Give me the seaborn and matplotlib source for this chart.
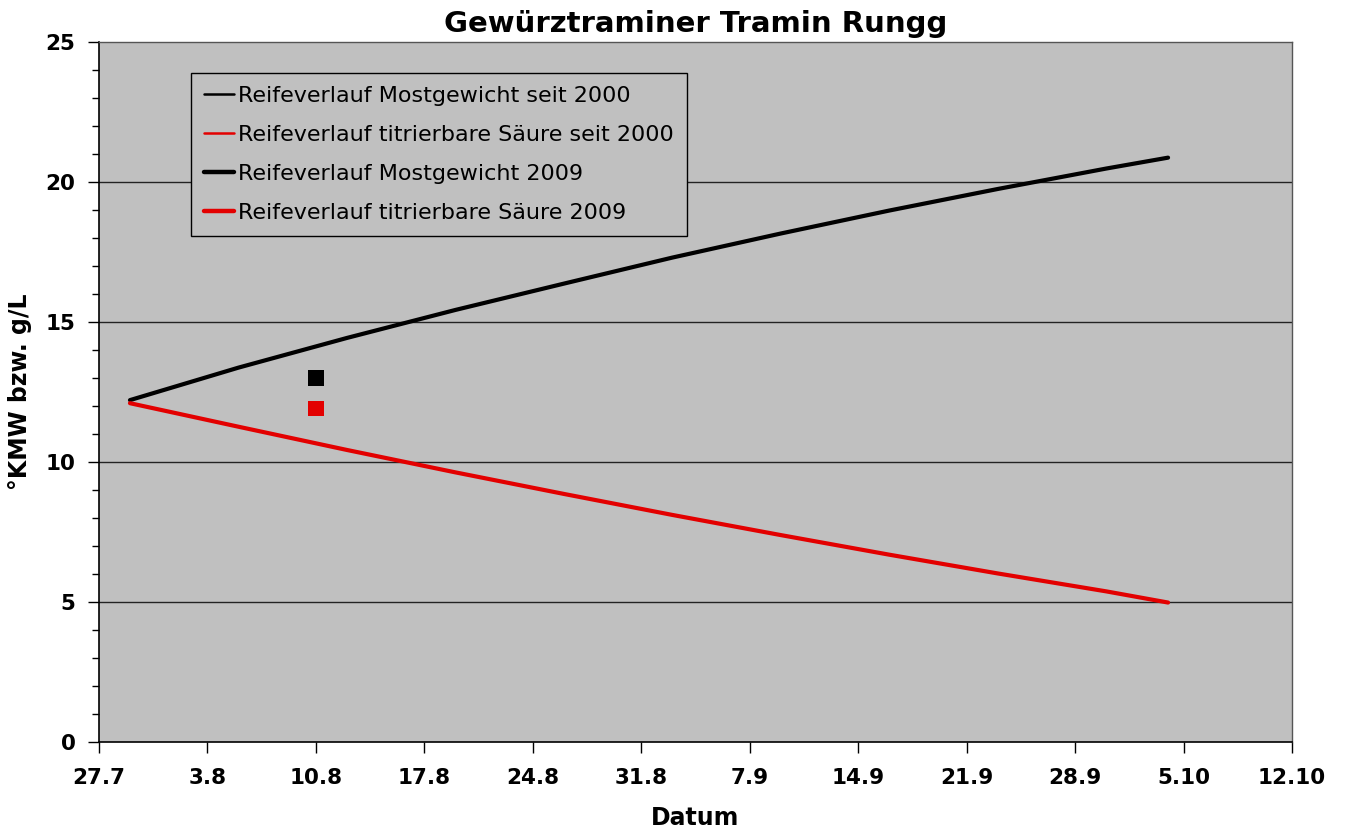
import matplotlib
matplotlib.use("Agg")
import matplotlib.pyplot as plt
import matplotlib.dates as mdates
from matplotlib.lines import Line2D
from matplotlib.ticker import FuncFormatter, MultipleLocator
import seaborn as sns
import pandas as pd

# average ripening curves since 2000
curve_dates = ["2009-07-29", "2009-08-05", "2009-08-12", "2009-08-19", "2009-08-26",
               "2009-09-02", "2009-09-09", "2009-09-16", "2009-09-23", "2009-09-30",
               "2009-10-04"]
mostgewicht_2000 = [12.21, 13.37, 14.43, 15.43, 16.37, 17.30, 18.16, 18.98, 19.75, 20.48, 20.87]
saeure_2000 = [12.10, 11.26, 10.43, 9.63, 8.86, 8.11, 7.39, 6.69, 6.02, 5.38, 4.98]

# 2009 measurement
dates_2009 = ["2009-08-10"]
mostgewicht_2009 = [13.0]
saeure_2009 = [11.9]

tick_dates = pd.date_range("2009-07-27", "2009-10-12", freq="7D")

labels = ["Reifeverlauf Mostgewicht seit 2000",
          "Reifeverlauf titrierbare Säure seit 2000",
          "Reifeverlauf Mostgewicht 2009",
          "Reifeverlauf titrierbare Säure 2009"]

RED = "#e30000"

sns.set_style("ticks", {"axes.facecolor": "#c0c0c0"})
plt.rcParams["font.family"] = ["DejaVu Sans"]
plt.rcParams["text.color"] = "black"
plt.rcParams["axes.labelcolor"] = "black"
plt.rcParams["xtick.color"] = "black"
plt.rcParams["ytick.color"] = "black"

curves = pd.DataFrame({"datum": pd.to_datetime(curve_dates),
                       "most": mostgewicht_2000,
                       "saeure": saeure_2000})
points = pd.DataFrame({"datum": pd.to_datetime(dates_2009),
                       "most": mostgewicht_2009,
                       "saeure": saeure_2009})

fig = plt.figure(figsize=(13.45, 8.32), dpi=100)
ax = fig.add_axes([0.0736, 0.1082, 0.8870, 0.8413])

for y in [5, 10, 15, 20]:
    ax.axhline(y, color="#222222", lw=1.0, zorder=1)

sns.lineplot(data=curves, x="datum", y="most", color="black", lw=3, ax=ax, zorder=3)
sns.lineplot(data=curves, x="datum", y="saeure", color=RED, lw=3, ax=ax, zorder=3)
sns.scatterplot(data=points, x="datum", y="most", color="black", marker="s",
                s=120, edgecolor="none", ax=ax, zorder=4)
sns.scatterplot(data=points, x="datum", y="saeure", color=RED, marker="s",
                s=120, edgecolor="none", ax=ax, zorder=4)

ax.set_xlim(tick_dates[0], tick_dates[-1])
ax.set_ylim(0, 25)
ax.set_xticks(tick_dates)
ax.xaxis.set_major_formatter(FuncFormatter(
    lambda v, pos: "{}.{}".format(mdates.num2date(v).day, mdates.num2date(v).month)))
ax.yaxis.set_major_locator(MultipleLocator(5))
ax.yaxis.set_minor_locator(MultipleLocator(1))

ax.tick_params(axis="both", which="major", length=8, width=1, labelsize=15.5,
               color="black")
ax.tick_params(axis="x", which="major", pad=11)
ax.tick_params(axis="y", which="major", pad=9)
ax.tick_params(axis="y", which="minor", length=5, width=1, color="black")
for lab in ax.get_xticklabels() + ax.get_yticklabels():
    lab.set_fontweight("bold")

for side in ["left", "bottom"]:
    ax.spines[side].set_color("black")
    ax.spines[side].set_linewidth(1.2)
for side in ["top", "right"]:
    ax.spines[side].set_visible(True)
    ax.spines[side].set_color("#555555")
    ax.spines[side].set_linewidth(1.0)

ax.set_xlabel("Datum", fontsize=17, fontweight="bold", labelpad=13)
ax.set_ylabel("°KMW bzw. g/L", fontsize=17, fontweight="bold", labelpad=10)
ax.set_title("Gewürztraminer Tramin Rungg", fontsize=21, fontweight="bold", pad=7)

handles = [Line2D([], [], color="black", lw=1.8),
           Line2D([], [], color=RED, lw=1.8),
           Line2D([], [], color="black", lw=3.2),
           Line2D([], [], color=RED, lw=3.2)]
leg = ax.legend(handles, labels, loc="upper left", bbox_to_anchor=(0.077, 0.956),
                borderaxespad=0, fontsize=16, frameon=True, fancybox=False,
                framealpha=1, edgecolor="black", handlelength=1.35,
                handletextpad=0.15, labelspacing=0.85, borderpad=0.6)
leg.get_frame().set_linewidth(1.0)
leg.set_zorder(5)

fig.savefig("out.png", dpi=100)
